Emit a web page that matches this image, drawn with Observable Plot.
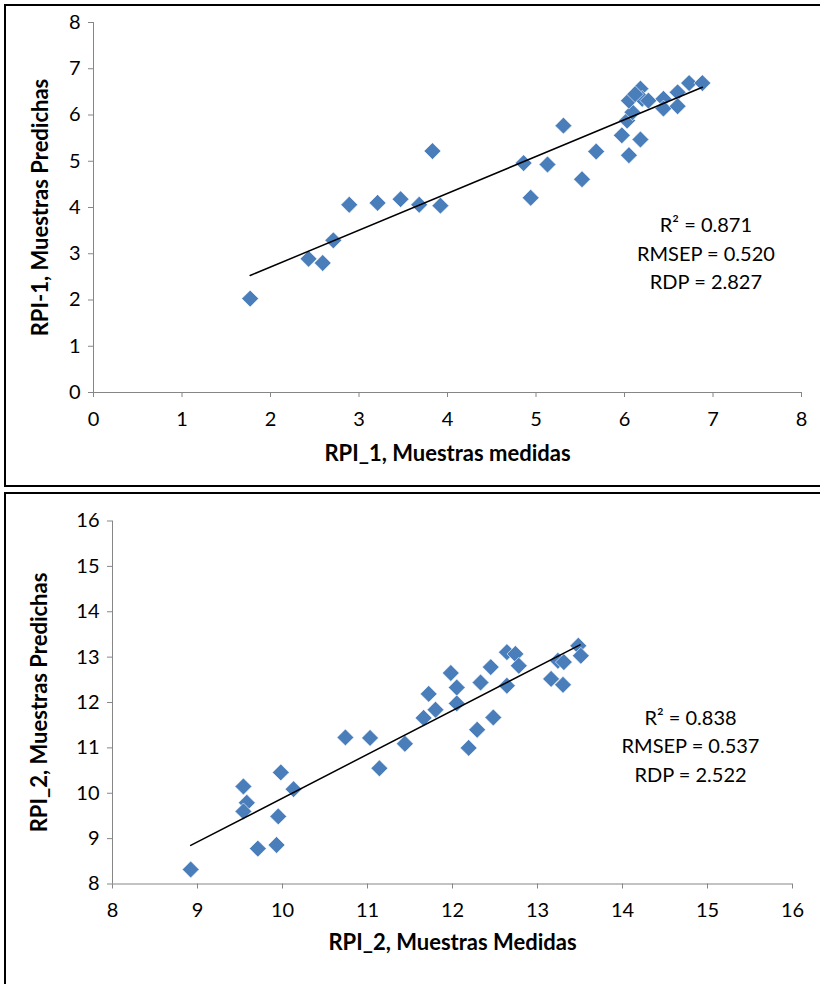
<!DOCTYPE html>
<html><head><meta charset="utf-8">
<script src="https://cdn.jsdelivr.net/npm/d3@7"></script>
<script src="https://cdn.jsdelivr.net/npm/@observablehq/plot@0.6"></script>
<style>
html,body{margin:0;padding:0;background:#fff;}
body{width:820px;height:984px;overflow:hidden;position:relative;font-family:Lato,sans-serif;}
.box{position:absolute;left:4px;border:2px solid #000;box-sizing:border-box;width:840px;}
#b1{top:4px;height:483px;}
#b2{top:492px;height:600px;}
#c1{position:absolute;left:0;top:0;}
#c2{position:absolute;left:0;top:490px;}
</style></head><body>
<div class="box" id="b1"></div><div class="box" id="b2"></div>
<div id="c1"></div><div id="c2"></div>
<script>
// ---- Chart 1: RPI_1 ----
const measured1 = [1.77,2.43,2.59,2.71,2.89,3.21,3.47,3.68,3.92,3.83,4.86,5.13,4.94,5.31,5.52,5.68,5.97,6.05,6.18,6.03,6.09,6.05,6.18,6.20,6.27,6.12,6.44,6.44,6.60,6.60,6.73,6.88];
const predicted1 = [2.03,2.89,2.80,3.29,4.06,4.10,4.18,4.06,4.04,5.22,4.96,4.93,4.21,5.77,4.61,5.21,5.56,5.13,5.47,5.88,6.06,6.31,6.57,6.35,6.31,6.45,6.35,6.14,6.49,6.19,6.69,6.69];
const fitX1 = [1.77, 6.88];
const fitY1 = [2.53, 6.60];
const ticks1 = [0,1,2,3,4,5,6,7,8];
const stats1 = "R² = 0.871\nRMSEP = 0.520\nRDP = 2.827";
const statsPos1 = [6.92, 3.05];
const xTitle1 = "RPI_1, Muestras medidas";
const yTitle1 = "RPI-1, Muestras Predichas";

// ---- Chart 2: RPI_2 ----
const measured2 = [8.92,9.54,9.58,9.54,9.71,9.98,10.13,9.95,9.93,10.74,11.03,11.14,11.44,11.66,11.80,11.72,11.98,12.05,12.05,12.19,12.29,12.33,12.45,12.64,12.64,12.74,12.78,12.48,13.16,13.30,13.24,13.31,13.48,13.51];
const predicted2 = [8.32,10.15,9.79,9.60,8.78,10.46,10.09,9.49,8.86,11.23,11.22,10.55,11.09,11.66,11.84,12.19,12.65,12.33,11.98,11.00,11.40,12.44,12.78,12.37,13.11,13.07,12.81,11.67,12.52,12.39,12.92,12.89,13.25,13.03];
const fitX2 = [8.92, 13.50];
const fitY2 = [8.85, 13.27];
const ticks2 = [8,9,10,11,12,13,14,15,16];
const stats2 = "R² = 0.838\nRMSEP = 0.537\nRDP = 2.522";
const statsPos2 = [14.80, 11.08];
const xTitle2 = "RPI_2, Muestras Medidas";
const yTitle2 = "RPI_2, Muestras Predichas";

const BLUE = "#4a7ebb";
const AXIS = "#868686";
const FONT = "Lato, 'Open Sans', sans-serif";

function chart(cfg) {
  const pts = cfg.mx.map((x, i) => ({x, y: cfg.py[i]}));
  const fit = cfg.fx.map((x, i) => ({x, y: cfg.fy[i]}));
  const lo = cfg.ticks[0], hi = cfg.ticks[cfg.ticks.length - 1];
  return Plot.plot({
    width: 820, height: cfg.height,
    marginLeft: cfg.ml, marginRight: cfg.mr, marginTop: cfg.mt, marginBottom: cfg.mb,
    x: {domain: [lo, hi]},
    y: {domain: [lo, hi]},
    style: {fontFamily: FONT, background: "transparent", overflow: "visible", color: "#000"},
    marks: [
      Plot.ruleX([lo], {stroke: AXIS}),
      Plot.ruleY([lo], {stroke: AXIS}),
      Plot.axisX({ticks: cfg.ticks, tickSize: 5, tickPadding: 14, stroke: AXIS, fill: "#000", fontSize: 20, label: null, tickFormat: d => String(d)}),
      Plot.axisY({ticks: cfg.ticks, tickSize: 5, tickPadding: 8, stroke: AXIS, fill: "#000", fontSize: 20, label: null, tickFormat: d => String(d)}),
      Plot.dot(pts, {x: "x", y: "y", symbol: "diamond2", r: 7.6, fill: BLUE, stroke: "#fff", strokeWidth: 0.6}),
      Plot.line(fit, {x: "x", y: "y", stroke: "#000", strokeWidth: 1.5}),
      Plot.text([cfg.stats], {x: cfg.sp[0], y: cfg.sp[1], text: d => d, fontSize: 20, lineHeight: 1.42, textAnchor: "middle", fill: "#000"}),
      Plot.text([cfg.xt], {frameAnchor: "bottom", dy: cfg.xtdy, text: d => d, textAnchor: "middle", fontSize: 22, fontWeight: "bold", fill: "#000"}),
      Plot.text([cfg.yt], {frameAnchor: "left", dx: cfg.ytdx, rotate: -90, text: d => d, textAnchor: "middle", fontSize: 22, fontWeight: "bold", fill: "#000"})
    ]
  });
}

document.getElementById("c1").append(chart({
  mx: measured1, py: predicted1, fx: fitX1, fy: fitY1, ticks: ticks1,
  stats: stats1, sp: statsPos1, xt: xTitle1, yt: yTitle1,
  height: 490, ml: 93, mr: 19, mt: 22, mb: 98, xtdy: 68, ytdx: -53
}));
document.getElementById("c2").append(chart({
  mx: measured2, py: predicted2, fx: fitX2, fy: fitY2, ticks: ticks2,
  stats: stats2, sp: statsPos2, xt: xTitle2, yt: yTitle2,
  height: 494, ml: 112, mr: 28, mt: 30.5, mb: 100.5, xtdy: 66, ytdx: -73
}));
</script></body></html>
